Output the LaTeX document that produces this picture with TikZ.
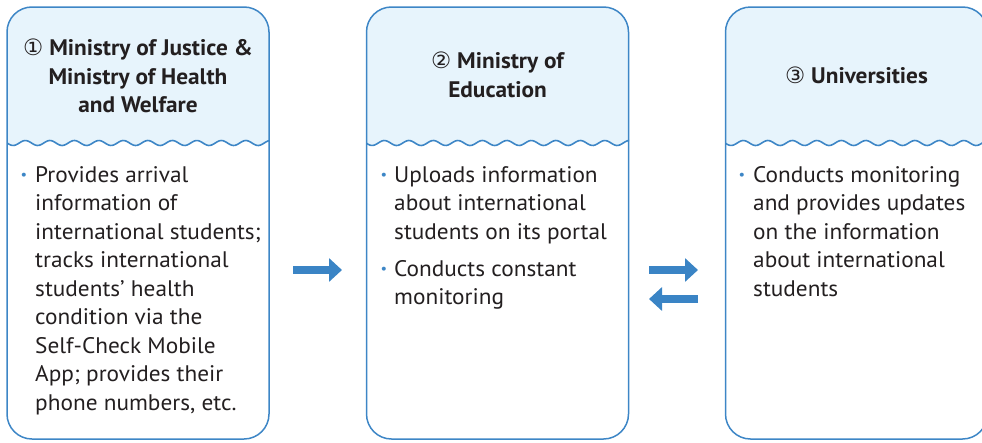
\documentclass[tikz,border=0pt]{standalone}
\usepackage{fontspec}
\setmainfont[FakeStretch=1.035]{PT Sans}
\newfontfamily\dvfont{DejaVu Sans}
\usetikzlibrary{arrows.meta}
\definecolor{bord}{HTML}{3D86C6}
\definecolor{headfill}{HTML}{E7F4FC}
\definecolor{arrowc}{HTML}{3A84C5}
\definecolor{txt}{HTML}{231F20}
\begin{document}
\begin{tikzpicture}[x=1pt,y=-1pt,
  panel/.style={draw=bord, line width=1.5pt, rounded corners=25pt, minimum width=262pt, minimum height=432pt, inner sep=0pt},
  title/.style={font=\bfseries\fontsize{22.5}{28.5}\selectfont, text=txt, align=center, inner sep=0pt},
  body/.style={font=\fontsize{22.5}{28.5}\selectfont, text=txt, align=left, anchor=base west, inner sep=0pt},
  bul/.style={text=bord, font=\fontsize{14}{14}\selectfont, inner sep=0pt},
  bigarrow/.style={arrowc, line width=8pt, -{Triangle[length=13pt, width=23pt]}}
]
\useasboundingbox (0,0) rectangle (982,442);
\clip (0,0) rectangle (982,442);
\foreach \a/\b in {7/269, 366/629, 725/988} {
  \begin{scope}
    \clip[rounded corners=25pt] (\a,7) rectangle (\b,439);
    \fill[headfill] (\a-2,0) -- (\b+2,0) -- plot[domain=\b+2:\a-2, samples=150] (\x,{143+2.5*sin((\x-\a)*14.694)}) -- cycle;
    \draw[bord, line width=1.6pt] plot[domain=\a-2:\b+2, samples=150] (\x,{143+2.5*sin((\x-\a)*14.694)});
  \end{scope}
}
\node[panel] (p1) at (138,223) {};
\node[panel] (p2) at (497.5,223) {};
\node[panel] (p3) at (856.5,223) {};

\node[title] (t1) at (138,76) {{\dvfont\mdseries ①} Ministry of Justice \&\\Ministry of Health\\and Welfare};
\node[title] (t2) at (497.5,75) {{\dvfont\mdseries ②} Ministry of\\Education};
\node[title] (t3) at (856.5,75) {{\dvfont\mdseries ③} Universities};

\node[bul] (b1) at (24,176) {•};
\node[body] (x1) at (35,410) {Provides arrival\\information of\\international students;\\tracks international\\students’ health\\condition via the\\Self-Check Mobile\\App; provides their\\phone numbers, etc.};

\node[bul] (b2) at (384,176) {•};
\node[body] (x2) at (394,239) {Uploads information\\about international\\students on its portal};
\node[bul] (b3) at (384,270) {•};
\node[body] (x3) at (394,304.5) {Conducts constant\\monitoring};

\node[bul] (b4) at (742,176) {•};
\node[body] (x4) at (753,296) {Conducts monitoring\\and provides updates\\on the information\\about international\\students};

\coordinate (a1s) at (293,270);
\coordinate (a1e) at (342,270);
\coordinate (a2s) at (649,270);
\coordinate (a2e) at (698,270);
\coordinate (a3s) at (698,299);
\coordinate (a3e) at (649,299);
\draw[bigarrow] (a1s) -- (a1e);
\draw[bigarrow] (a2s) -- (a2e);
\draw[bigarrow] (a3s) -- (a3e);
\end{tikzpicture}
\end{document}
